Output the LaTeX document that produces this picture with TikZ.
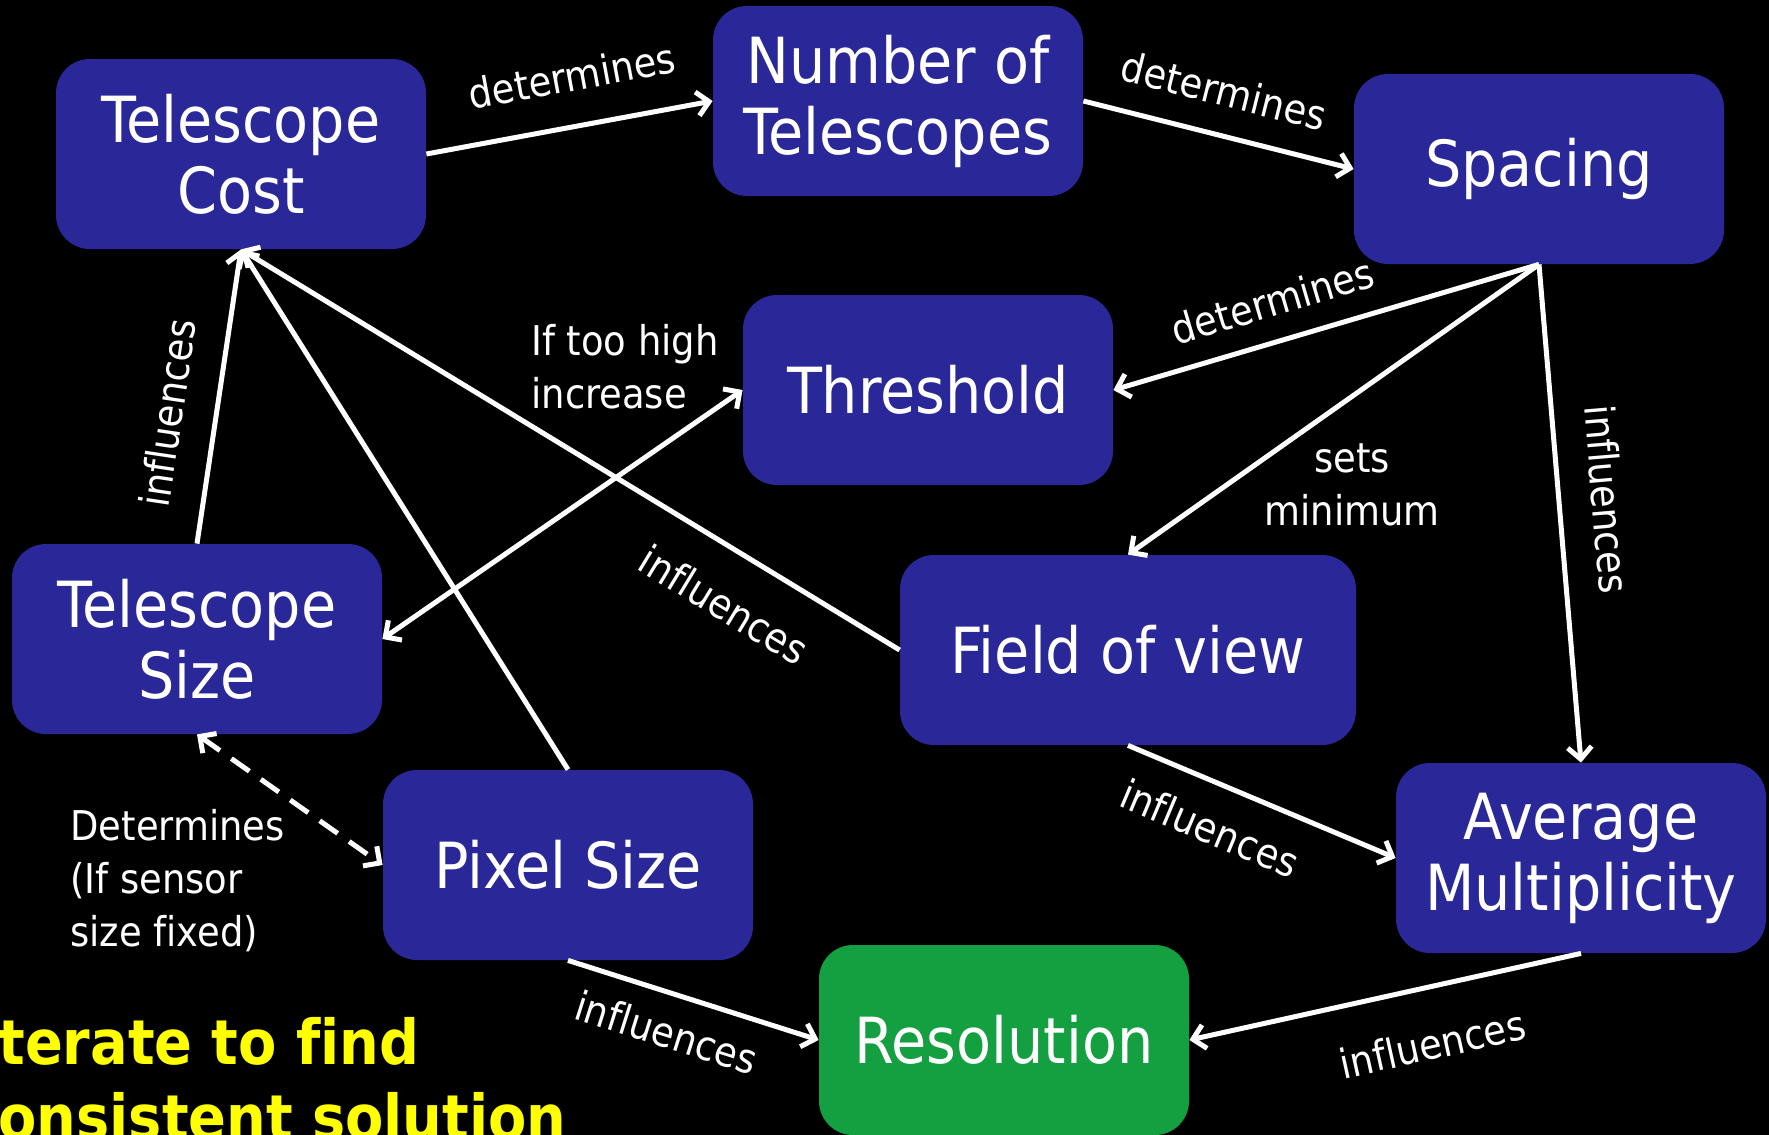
\documentclass[tikz,border=0pt]{standalone}
\usepackage{fontspec}
\setmainfont{DejaVu Sans Condensed}[Ligatures=CommonOff]
\usetikzlibrary{arrows.meta}
\definecolor{boxblue}{RGB}{42,40,152}
\definecolor{boxgreen}{RGB}{20,160,65}
\definecolor{iteryellow}{RGB}{255,255,0}
\begin{document}
\begin{tikzpicture}[x=0.5pt,y=-0.5pt,
  box/.style={rectangle, rounded corners=17pt, fill=boxblue, text=white, align=center,
    minimum width=185pt, minimum height=95pt, inner sep=0pt,
    font=\fontsize{31.8}{35.5}\selectfont},
  conn/.style={draw=white, line width=2.5pt, -{Straight Barb[length=6pt,width=12pt]}},
  biconn/.style={draw=white, line width=2.5pt, {Straight Barb[length=6pt,width=12pt]}-{Straight Barb[length=6pt,width=12pt]}},
  lbl/.style={text=white, font=\fontsize{20.5}{26.5}\selectfont, inner sep=0pt},
  yel/.style={text=iteryellow, anchor=base west, inner sep=0pt, font=\bfseries\fontsize{31}{35}\selectfont},
]
\path[use as bounding box] (0,0) rectangle (1769,1135);
\clip (0,0) rectangle (1769,1135);
\fill[black] (0,0) rectangle (1769,1135);

\node[box] (tc) at (241,154) {Telescope\\Cost};
\node[box] (nt) at (898,101) {Number of\\Telescopes};
\node[box] (sp) at (1539,169) {Spacing};
\node[box] (th) at (928,390) {Threshold};
\node[box] (ts) at (197,639) {Telescope\\Size};
\node[box, minimum width=228pt] (fov) at (1128,650) {Field of view};
\node[box] (ps) at (568,865) {Pixel Size};
\node[box] (am) at (1581,858) {Average\\Multiplicity};
\node[box, fill=boxgreen] (res) at (1004,1040) {Resolution};

\draw[conn] (tc.east) -- node[lbl, sloped, above=16pt, pos=0.54] (l1) {determines} (nt.west);
\draw[conn] (nt.east) -- node[lbl, sloped, above=13pt, pos=0.48] (l2) {determines} (sp.west);
\draw[conn] (sp.south) -- node[lbl, sloped, above=11pt, pos=0.6] (l3) {determines} (th.east);
\draw[conn] (sp.south) -- (fov.north);
\node[lbl, align=center] (l4) at (1352,485) {sets\\minimum};
\draw[conn] (sp.south) -- node[lbl, sloped, above=15pt, pos=0.48] (l5) {influences} (am.north);
\draw[conn] (fov.south) -- node[lbl, sloped, below=13pt, pos=0.37] (l6) {influences} (am.west);
\draw[conn] (am.south) -- node[lbl, sloped, below=19pt, pos=0.41] (l7) {influences} (res.east);
\draw[conn] (ps.south) -- node[lbl, sloped, below=10pt, pos=0.44] (l8) {influences} (res.west);
\draw[conn] (ps.north) -- (tc.south);
\draw[conn] (fov.west) -- node[lbl, sloped, below=17pt, pos=0.225] (l9) {influences} (tc.south);
\draw[conn] (ts.north) -- node[lbl, sloped, above=15pt, pos=0.42] (l10) {influences} (tc.south);
\draw[biconn] (th.west) -- (ts.east);
\node[lbl, align=left, anchor=west] (l11) at (531,367) {If too high\\increase};
\draw[biconn, dash pattern=on 11pt off 7pt] (ts.south) -- (ps.west);
\node[lbl, align=left, anchor=west] (l12) at (70,881) {Determines\\(If sensor\\size fixed)};

\node[yel] (it1) at (-2,1064) {terate to find};
\node[yel] (it2) at (-2,1139) {onsistent solution};
\end{tikzpicture}
\end{document}
